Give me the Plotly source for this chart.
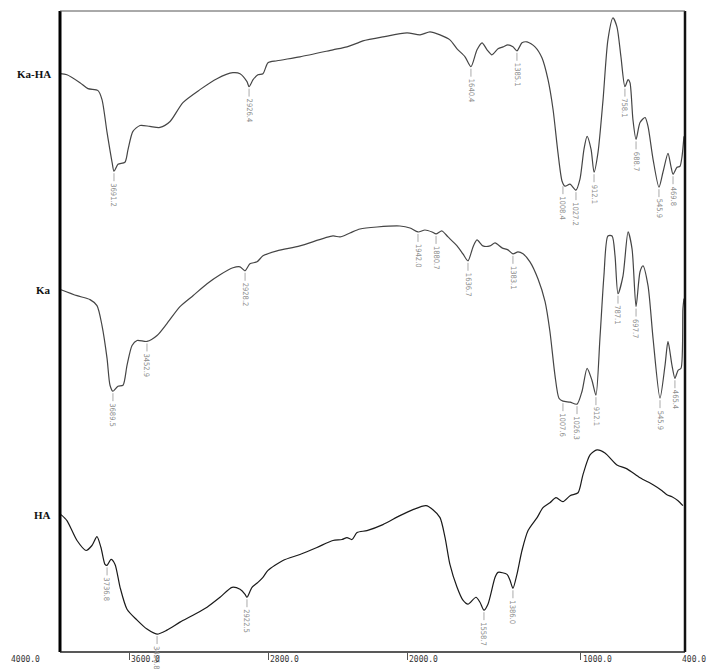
import plotly.graph_objects as go

# ---------------- data ----------------
# wavenumber (cm-1) and stacked transmittance (arbitrary units)
ka_ha_wn = [4000,3960,3885,3839,3781,3758,3729,3700,3689,3666,
            3626,3608,3580,3539,3482,3424,3366,3292,3194,3096,
            3004,2963,2923,2911,2888,2860,2831,2802,2750,2618,
            2428,2347,2284,2255,2140,2001,1926,1869,1811,1754,
            1713,1667,1633,1598,1569,1540,1512,1477,1448,1420,
            1391,1368,1339,1310,1264,1224,1189,1160,1132,1108,
            1091,1062,1028,1005,982,964,941,924,901,872,
            844,815,792,769,746,728,717,700,682,659,
            630,613,584,550,527,498,481,469,446,429,
            417,406]
ka_ha_t = [581,580,572,566,564,555,522,492,483,490,
           492,505,523,529,528,527,533,552,565,576,
           582,581,573,568,575,580,581,592,594,598,
           605,608,612,614,618,622,620,623,620,615,
           606,598,588,605,612,605,600,606,608,610,
           608,604,612,613,608,597,575,545,502,473,
           468,470,464,475,505,518,505,482,502,555,
           615,637,628,598,568,575,572,535,515,532,
           537,528,495,467,482,501,488,480,487,488,
           498,518]

ka_wn = [3994,3902,3827,3787,3758,3729,3712,3695,3666,3637,
         3614,3585,3556,3499,3441,3384,3309,3234,3153,3078,
         3004,2963,2934,2906,2865,2831,2750,2618,2428,2387,
         2330,2272,2174,2042,1984,1938,1898,1857,1834,1800,
         1765,1713,1679,1650,1621,1598,1564,1523,1494,1454,
         1420,1391,1362,1333,1293,1247,1206,1178,1149,1126,
         1103,1062,1022,993,964,936,913,890,867,844,
         820,803,786,757,728,705,682,659,642,613,
         584,544,515,498,475,458,440,423,412,406]
ka_t = [364,358,354,348,328,295,268,262,267,268,
        288,308,313,312,318,330,347,358,370,379,
        386,387,383,390,392,398,403,408,418,417,
        421,425,427,428,426,422,424,422,420,423,
        417,408,400,393,407,414,408,408,411,406,
        404,400,402,400,392,375,352,322,278,255,
        252,251,249,262,285,273,258,315,378,418,
        418,398,360,378,422,405,347,382,388,368,
        315,255,288,312,288,275,283,285,345,355]

ha_wn = [3994,3960,3902,3850,3816,3787,3764,3741,3729,3706,
         3683,3654,3614,3556,3499,3441,3384,3309,3234,3153,
         3078,3009,2963,2934,2923,2894,2860,2831,2802,2716,
         2618,2520,2428,2376,2347,2318,2289,2232,2140,2042,
         1967,1892,1852,1811,1782,1754,1713,1679,1650,1604,
         1581,1558,1535,1494,1477,1425,1408,1391,1368,1339,
         1304,1252,1218,1178,1143,1103,1062,1016,988,947,
         907,861,792,734,659,584,532,504,475,440,
         412]
ha_t = [138,132,112,102,107,116,105,88,87,93,
        88,65,43,32,23,18,22,30,37,45,
        55,65,63,58,55,65,70,75,82,92,
        98,105,112,113,115,113,120,122,128,137,
        143,147,143,135,115,88,65,52,48,55,
        50,42,48,75,80,78,72,64,78,102,
        122,135,145,150,155,151,157,160,178,198,
        203,200,188,184,175,168,162,158,156,152,
        147]

# peak annotations: position on curve, value at minimum, printed label
ka_ha_peak_pos = [3689, 2911, 1633, 1368, 1103, 1028, 924, 746, 682, 550, 469]
ka_ha_peak_t = [483, 568, 588, 604, 470, 464, 482, 568, 515, 467, 480]
ka_ha_peak_lbl = ["3691.2", "2926.4", "1640.4", "1385.1", "1008.4", "1027.2",
                  "912.1", "758.1", "688.7", "545.9", "469.8"]

ka_peak_pos = [3695, 3499, 2934, 1938, 1834, 1650, 1391, 1103, 1022, 913, 786, 682, 544, 458]
ka_peak_t = [262, 312, 383, 422, 420, 393, 400, 252, 249, 258, 360, 347, 255, 275]
ka_peak_lbl = ["3689.5", "3452.9", "2928.2", "1942.0", "1880.7", "1636.7", "1383.1",
               "1007.6", "1026.3", "912.1", "787.1", "697.7", "545.9", "465.4"]

ha_peak_pos = [3729, 3441, 2923, 1558, 1391]
ha_peak_t = [87, 18, 55, 42, 64]
ha_peak_lbl = ["3736.8", "3426.8", "2922.5", "1558.7", "1386.0"]

series_names = ["Ka-HA", "Ka", "HA"]

tick_vals = [4000, 3600, 2800, 2000, 1000, 400]
tick_text = ["4000.0", "3600.0", "2800.0", "2000.0", "1000.0", "400.0"]

# ---------------- figure ----------------
fig = go.Figure()
curves = [(ka_ha_wn, ka_ha_t, "#454545"), (ka_wn, ka_t, "#454545"), (ha_wn, ha_t, "#1a1a1a")]
for (wn, t, col), name in zip(curves, series_names):
    fig.add_trace(go.Scatter(x=wn, y=t, mode="lines", name=name,
                             line=dict(color=col, width=1.2, shape="spline", smoothing=0.7),
                             showlegend=False, hoverinfo="skip"))

annotations = []
shapes = []
peak_font = dict(family="Liberation Sans Narrow, DejaVu Sans Condensed, Arial", size=7.5, color="#8c8c8c")
for pos, tv, lbl in ([*zip(ka_ha_peak_pos, ka_ha_peak_t, ka_ha_peak_lbl)] +
                     [*zip(ka_peak_pos, ka_peak_t, ka_peak_lbl)] +
                     [*zip(ha_peak_pos, ha_peak_t, ha_peak_lbl)]):
    shapes.append(dict(type="line", xref="x", yref="y", x0=pos, x1=pos, y0=tv - 2, y1=tv - 10,
                       line=dict(color="#aaaaaa", width=1)))
    annotations.append(dict(x=pos, y=tv, xref="x", yref="y", text=lbl, showarrow=False,
                            textangle=90, yanchor="top", xanchor="center", yshift=-11,
                            borderpad=0, font=peak_font))

# series names at the left of the frame
for name, t in zip(series_names, [ka_ha_t, ka_t, ha_t]):
    annotations.append(dict(x=4000, y=t[0], xref="x", yref="y", text="<b>%s</b>" % name,
                            showarrow=False, xanchor="right", yanchor="middle", xshift=-7,
                            font=dict(family="Liberation Serif, Times New Roman, serif",
                                      size=11, color="#111")))

# tick labels (printed to the right of each tick)
for v, txt in zip(tick_vals, tick_text):
    if v == 4000:
        xa, xs = "right", -18
    elif v == 400:
        xa, xs = "right", 23
    else:
        xa, xs = "left", 0
    annotations.append(dict(x=v, y=0, xref="x", yref="paper", text=txt, showarrow=False,
                            xanchor=xa, yanchor="top", xshift=xs, yshift=-1,
                            font=dict(family="DejaVu Sans Mono, monospace", size=8, color="#333")))

# frame
shapes += [
    dict(type="line", xref="paper", yref="paper", x0=0, x1=0, y0=0, y1=1, line=dict(color="#000", width=3)),
    dict(type="line", xref="paper", yref="paper", x0=1, x1=1, y0=0, y1=1, line=dict(color="#111", width=2.5)),
    dict(type="line", xref="paper", yref="paper", x0=0, x1=1, y0=1, y1=1, line=dict(color="#555", width=1)),
    dict(type="line", xref="paper", yref="paper", x0=0, x1=1, y0=0, y1=0, line=dict(color="#222", width=1.5)),
]

fig.update_layout(
    width=709, height=670,
    margin=dict(l=60, r=24, t=11, b=15),
    paper_bgcolor="white", plot_bgcolor="white",
    xaxis=dict(range=[4000, 400], showgrid=False, zeroline=False, showline=False,
               ticks="outside", ticklen=7, tickwidth=1, tickcolor="#555",
               tickvals=tick_vals[1:-1], showticklabels=False),
    yaxis=dict(range=[0, 644], visible=False),
    annotations=annotations, shapes=shapes,
)

fig.write_html("out.html", config={"displayModeBar": False},
               post_script="document.body.style.margin='0px';document.body.style.overflow='hidden';")
